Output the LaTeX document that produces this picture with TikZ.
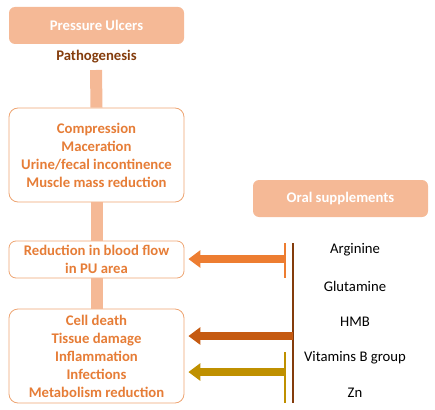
\documentclass[tikz,border=0pt]{standalone}
\usepackage{fontspec}
\setmainfont{Carlito}
\usetikzlibrary{arrows.meta,calc}
\definecolor{peach}{RGB}{245,185,150}
\definecolor{boxline}{RGB}{238,165,115}
\definecolor{txtorange}{RGB}{230,125,55}
\definecolor{darkbrown}{RGB}{132,60,12}
\definecolor{arrA}{RGB}{237,125,49}
\definecolor{arrB}{RGB}{197,90,17}
\definecolor{arrC}{RGB}{191,144,0}
\tikzset{
  every node/.style={font=\fontsize{14.7}{18}\selectfont},
  headbox/.style={fill=peach, rounded corners=6pt, minimum width=175pt, minimum height=37pt, inner sep=0pt, text=white, font=\fontsize{14.7}{18}\selectfont\bfseries},
  causebox/.style={draw=boxline, line width=0.8pt, fill=white, rounded corners=9pt, minimum width=175pt, inner sep=0pt, align=center, text=txtorange, font=\fontsize{14.7}{18}\selectfont\bfseries},
  bar/.style={draw=peach, line width=12pt},
  supp/.style={text=black, inner sep=0pt},
  tick/.style={line width=2pt},
  bigarrow/.style={line width=8pt, -{Triangle[width=17pt,length=12pt]}, shorten >=4pt}
}
\begin{document}
\begin{tikzpicture}[x=1pt,y=-1pt]
\useasboundingbox (0,0) rectangle (435,409);
% headers
\node[headbox] (pu) at (96.5,25.5) {Pressure Ulcers};
\node[text=darkbrown, font=\fontsize{14.7}{18}\selectfont\bfseries, inner sep=0pt] (path) at (96.5,57) {Pathogenesis};
\node[headbox] (oral) at (340.5,198.5) {Oral supplements};
% cause boxes
\node[causebox, minimum height=94pt] (b1) at (96.5,155) {Compression\\Maceration\\Urine/fecal incontinence\\Muscle mass reduction};
\node[causebox, minimum height=37pt, rounded corners=7pt] (b2) at (96.5,259.5) {Reduction in blood flow\\in PU area};
\node[causebox, minimum height=94pt] (b3) at (96.5,356) {Cell death\\Tissue damage\\Inflammation\\Infections\\Metabolism reduction};
% vertical bar
\coordinate (bartop) at (96,70);
\begin{scope}[on background layer/.try]
\end{scope}
\draw[bar] (bartop) -- (b1.north);
\draw[bar] (b1.south) -- (b2.north);
\draw[bar] (b2.south) -- (b3.north);
% supplements
\node[supp] (arg) at (355,250) {Arginine};
\node[supp] (glu) at (355,286) {Glutamine};
\node[supp] (hmb) at (355,322) {HMB};
\node[supp] (vit) at (355,358) {Vitamins B group};
\node[supp] (zn) at (355,393) {Zn};
% ticks and brown line
\coordinate (t1a) at (284.5,243);
\coordinate (t1b) at (284.5,278);
\coordinate (mla) at (293,243);
\coordinate (mlb) at (293,403);
\coordinate (t3a) at (284.5,352);
\coordinate (t3b) at (284.5,403);
\draw[tick, draw=arrA] (t1a) -- (t1b);
\draw[tick, draw=darkbrown] (mla) -- (mlb);
\draw[tick, draw=arrC] (t3a) -- (t3b);
% arrows
\coordinate (s1) at (284,259);
\coordinate (s2) at (293,336);
\coordinate (s3) at (284,372);
\draw[bigarrow, draw=arrA, fill=arrA] (s1) -- (b2.east |- s1);
\draw[bigarrow, draw=arrB, fill=arrB] (s2) -- (b3.east |- s2);
\draw[bigarrow, draw=arrC, fill=arrC] (s3) -- (b3.east |- s3);
\end{tikzpicture}
\end{document}
